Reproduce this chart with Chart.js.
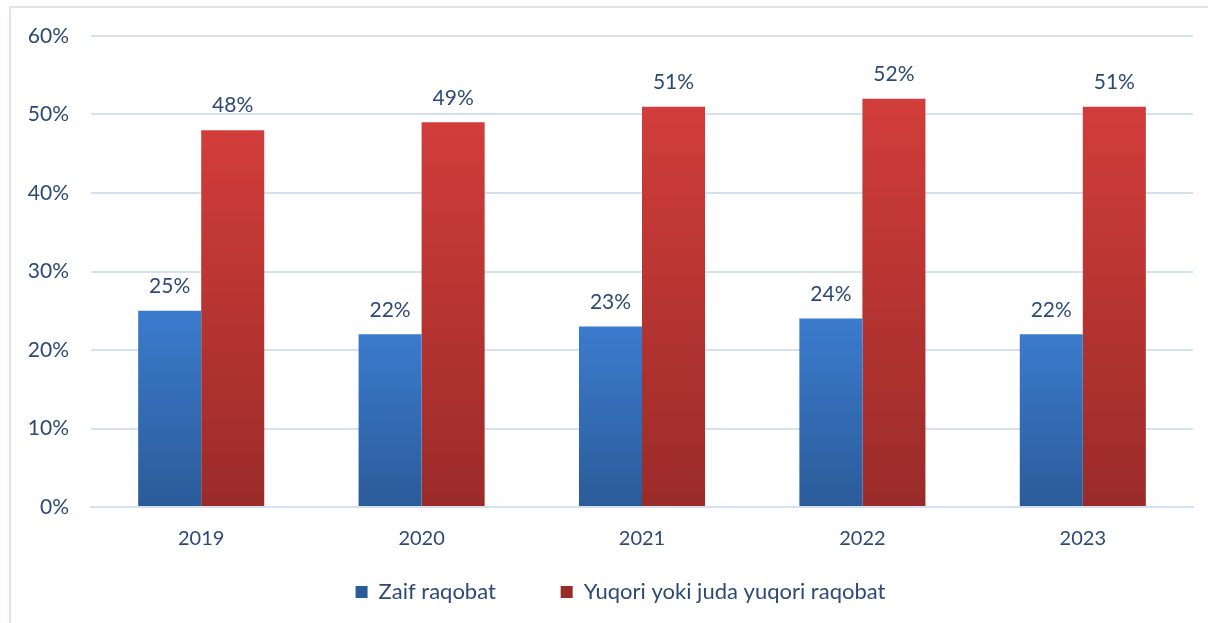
<!DOCTYPE html>
<html>
<head>
<meta charset="utf-8">
<script src="https://cdn.jsdelivr.net/npm/chart.js@4.4.0/dist/chart.umd.min.js"></script>
<style>
  html, body { margin: 0; padding: 0; background: #fff; }
  #wrap { position: relative; width: 1208px; height: 623px; }
  #frame { position: absolute; left: 9px; top: 6px; width: 1230px; height: 640px;
           border: 2px solid #dbe6f3; box-sizing: border-box; }
  canvas { position: absolute; left: 0; top: 0; }
</style>
</head>
<body>
<div id="wrap">
  <div id="frame"></div>
  <canvas id="myChart" width="1208" height="623"></canvas>
</div>
<script>
const years = ['2019', '2020', '2021', '2022', '2023'];
const weakCompetition = [25, 22, 23, 24, 22];
const highCompetition = [48, 49, 51, 52, 51];
const yTicks = [0, 10, 20, 30, 40, 50, 60];

const textColor = '#2b4a78';
const fontFamily = 'Lato, "Open Sans", sans-serif';

// vertical gradient over each bar's own height
function barGradient(ctx, top, bottom) {
  const chart = ctx.chart;
  const y = chart.scales.y;
  if (!chart.chartArea || !y || ctx.raw === undefined) return top;
  const g = chart.ctx.createLinearGradient(0, y.getPixelForValue(ctx.raw), 0, y.getPixelForValue(0));
  g.addColorStop(0, top);
  g.addColorStop(1, bottom);
  return g;
}

// value labels above each bar
const valueLabels = {
  id: 'valueLabels',
  afterDatasetsDraw(chart) {
    const ctx = chart.ctx;
    ctx.save();
    ctx.fillStyle = textColor;
    ctx.font = '21px ' + fontFamily;
    ctx.textAlign = 'center';
    ctx.textBaseline = 'bottom';
    chart.data.datasets.forEach((ds, i) => {
      chart.getDatasetMeta(i).data.forEach((bar, j) => {
        ctx.fillText(ds.data[j] + '%', bar.x, bar.y - 14);
      });
    });
    ctx.restore();
  }
};

// legend sits a bit right of the canvas centre in the original
const legendShift = {
  id: 'legendShift',
  afterLayout(chart) {
    chart.legend.left += 24;
    chart.legend.right += 24;
  }
};

const ctx = document.getElementById('myChart').getContext('2d');
const myChart = new Chart(ctx, {
  type: 'bar',
  data: {
    labels: years,
    datasets: [
      {
        label: 'Zaif raqobat',
        data: weakCompetition,
        backgroundColor: c => c.type === 'data' ? barGradient(c, '#3b7bcd', '#2b5b99') : '#3369b4'
      },
      {
        label: 'Yuqori yoki juda yuqori raqobat',
        data: highCompetition,
        backgroundColor: c => c.type === 'data' ? barGradient(c, '#d13d3a', '#9a2b29') : '#b8352f'
      }
    ]
  },
  options: {
    responsive: false,
    animation: false,
    layout: { padding: { left: 0, right: 15, top: 36, bottom: 10 } },
    datasets: { bar: { categoryPercentage: 0.572, barPercentage: 1.0 } },
    scales: {
      x: {
        grid: { display: false },
        border: { color: '#d4e1f0', width: 2 },
        ticks: { color: textColor, font: { family: fontFamily, size: 20 }, padding: 12 },
        afterFit: s => { s.height = 43; }
      },
      y: {
        min: 0,
        max: 60,
        afterBuildTicks: s => { s.ticks = yTicks.map(v => ({ value: v })); },
        grid: { color: '#d4e1f0', lineWidth: 2, drawTicks: false },
        border: { display: false },
        ticks: {
          color: textColor,
          font: { family: fontFamily, size: 21 },
          padding: 22,
          callback: v => v + '%'
        },
        afterFit: s => { s.width = 91; }
      }
    },
    plugins: {
      legend: {
        position: 'bottom',
        labels: {
          color: textColor,
          font: { family: fontFamily, size: 22 },
          boxWidth: 12,
          boxHeight: 12,
          padding: 31,
          useBorderRadius: false,
          generateLabels: chart => {
            const items = Chart.defaults.plugins.legend.labels.generateLabels(chart);
            // extra room after the first entry, as in the original
            items[0].text += '      ';
            return items;
          }
        }
      },
      tooltip: { enabled: false }
    }
  },
  plugins: [valueLabels, legendShift]
});
</script>
</body>
</html>
